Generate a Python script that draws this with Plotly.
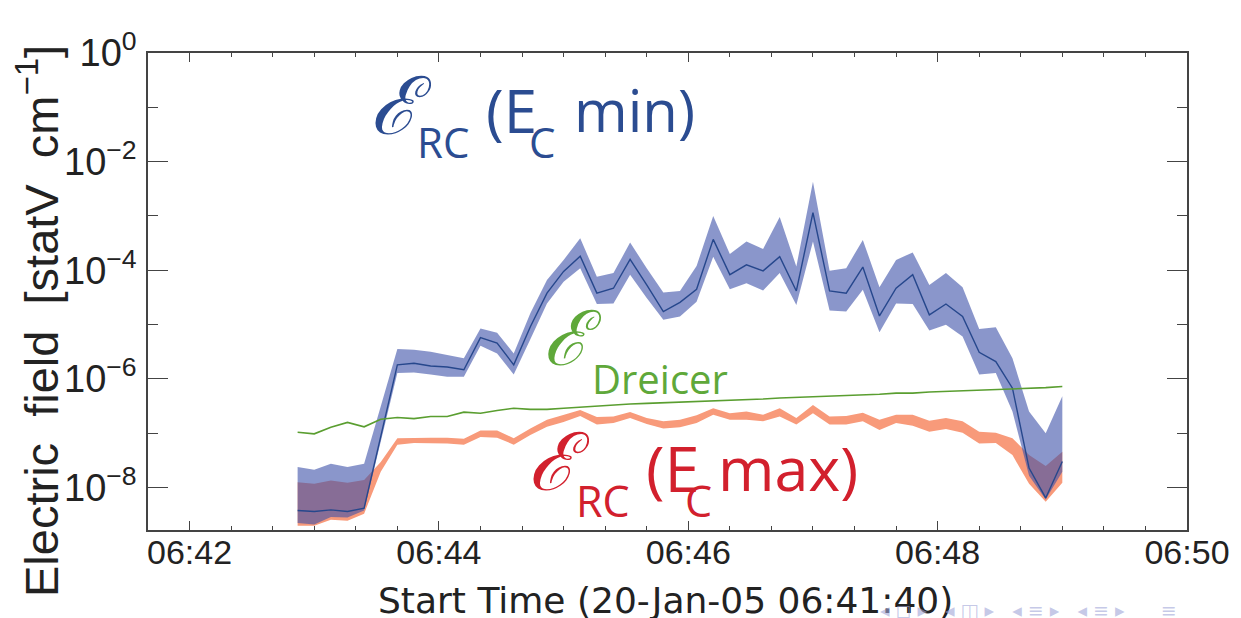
import numpy as np
import plotly.graph_objects as go

# ---------------- data ----------------
times = ["06:42:52", "06:43:00", "06:43:08", "06:43:16", "06:43:24", "06:43:32", "06:43:40",
         "06:43:48", "06:43:56", "06:44:04", "06:44:12", "06:44:20", "06:44:28", "06:44:36",
         "06:44:44", "06:44:52", "06:45:00", "06:45:08", "06:45:16", "06:45:24", "06:45:32",
         "06:45:40", "06:45:48", "06:45:56", "06:46:04", "06:46:12", "06:46:20", "06:46:28",
         "06:46:36", "06:46:44", "06:46:52", "06:47:00", "06:47:08", "06:47:16", "06:47:24",
         "06:47:32", "06:47:40", "06:47:48", "06:47:56", "06:48:04", "06:48:12", "06:48:20",
         "06:48:28", "06:48:36", "06:48:44", "06:48:52", "06:49:00"]
date = "2005-01-20"

# log10 of E_RC (E_C min): central value, upper and lower bound
log_min_mid = [-8.42, -8.44, -8.41, -8.44, -8.38, -7.06, -5.74, -5.71, -5.76, -5.78, -5.83, -5.24,
               -5.34, -5.74, -5.04, -4.42, -4.02, -3.74, -4.42, -4.33, -3.80, -4.27, -4.76, -4.59,
               -4.35, -3.43, -4.08, -3.90, -4.01, -3.75, -4.38, -2.94, -4.38, -4.42, -3.94, -4.84,
               -4.33, -4.08, -4.82, -4.62, -4.85, -5.51, -5.68, -6.17, -7.64, -8.19, -7.52]
log_min_hi = [-7.62, -7.67, -7.56, -7.62, -7.56, -6.49, -5.45, -5.46, -5.50, -5.56, -5.62, -5.07,
              -5.15, -5.53, -4.79, -4.18, -3.81, -3.41, -4.12, -4.05, -3.49, -3.96, -4.41, -4.38,
              -3.92, -3.00, -3.70, -3.47, -3.61, -3.02, -3.93, -2.37, -4.01, -3.96, -3.44, -4.31,
              -3.81, -3.67, -4.27, -4.05, -4.31, -5.08, -5.05, -5.62, -6.60, -7.00, -6.32]
log_min_lo = [-8.65, -8.68, -8.54, -8.55, -8.42, -7.16, -5.89, -5.88, -5.92, -5.96, -5.96, -5.39,
              -5.53, -5.92, -5.27, -4.61, -4.21, -3.96, -4.62, -4.61, -4.08, -4.51, -4.91, -4.85,
              -4.58, -3.75, -4.35, -4.24, -4.37, -4.05, -4.64, -3.47, -4.74, -4.76, -4.36, -5.14,
              -4.61, -4.62, -5.11, -5.00, -5.22, -5.92, -5.89, -6.60, -7.78, -8.22, -7.71]

# log10 of E_RC (E_C max): upper and lower bound
log_max_hi = [-7.90, -7.93, -7.87, -7.91, -7.86, -7.53, -7.09, -7.08, -7.08, -7.08, -7.10, -6.95,
              -6.95, -7.09, -6.91, -6.75, -6.66, -6.57, -6.70, -6.69, -6.61, -6.72, -6.78, -6.75,
              -6.67, -6.54, -6.63, -6.60, -6.66, -6.54, -6.72, -6.48, -6.69, -6.68, -6.62, -6.75,
              -6.66, -6.66, -6.77, -6.72, -6.78, -6.97, -6.99, -7.09, -7.40, -7.60, -7.34]
log_max_lo = [-8.70, -8.70, -8.59, -8.61, -8.48, -7.71, -7.21, -7.18, -7.18, -7.19, -7.21, -7.07,
              -7.08, -7.21, -7.03, -6.88, -6.79, -6.68, -6.84, -6.81, -6.72, -6.83, -6.91, -6.89,
              -6.81, -6.66, -6.75, -6.75, -6.78, -6.69, -6.84, -6.63, -6.84, -6.84, -6.78, -6.94,
              -6.81, -6.86, -6.97, -6.92, -6.99, -7.19, -7.18, -7.40, -7.93, -8.26, -7.91]

# log10 of Dreicer field
log_dreicer = [-6.98, -7.01, -6.89, -6.80, -6.88, -6.74, -6.71, -6.73, -6.69, -6.69, -6.61, -6.63,
               -6.58, -6.54, -6.56, -6.56, -6.54, -6.52, -6.49, -6.48, -6.46, -6.45, -6.44, -6.43,
               -6.42, -6.40, -6.39, -6.38, -6.37, -6.35, -6.34, -6.33, -6.32, -6.31, -6.29, -6.28,
               -6.26, -6.26, -6.24, -6.23, -6.22, -6.21, -6.20, -6.18, -6.17, -6.16, -6.14]

y_tick_exp = [0, -2, -4, -6, -8]
y_minor_exp = [-1, -3, -5, -7]
x_range = ["06:41:40", "06:50:00"]

# ---------------- figure ----------------
x = [f"{date} {t}" for t in times]
xs = x + x[::-1]
tv = lambda a: list(10.0 ** np.array(a))

BLUE_BAND = "rgba(60,80,168,0.6)"
ORANGE_BAND = "#f89a7a"
BLUE_LINE = "#26478c"
GREEN = "#5a9e30"

fig = go.Figure()
fig.add_trace(go.Scatter(x=xs, y=tv(log_max_hi) + tv(log_max_lo)[::-1], fill="toself",
                         fillcolor=ORANGE_BAND, line=dict(width=0), mode="lines", hoverinfo="skip"))
fig.add_trace(go.Scatter(x=xs, y=tv(log_min_hi) + tv(log_min_lo)[::-1], fill="toself",
                         fillcolor=BLUE_BAND, line=dict(width=0), mode="lines", hoverinfo="skip"))
fig.add_trace(go.Scatter(x=x, y=tv(log_min_mid), mode="lines",
                         line=dict(color=BLUE_LINE, width=1.4)))
fig.add_trace(go.Scatter(x=x, y=tv(log_dreicer), mode="lines",
                         line=dict(color=GREEN, width=1.6)))

L, R, T, B = 148, 54, 53, 88
W, H = 1241, 618
PW, PH = W - L - R, H - T - B


def px(v):
    return (v - L) / PW


def py(v):
    return (H - B - v) / PH


axis_col = "#444444"
xtick_font = dict(family="Liberation Sans", size=34, color="#222222")
ytick_font = dict(family="Liberation Sans", size=38, color="#222222")

fig.update_layout(
    width=W, height=H, margin=dict(l=L, r=R, t=T, b=B),
    paper_bgcolor="white", plot_bgcolor="white", showlegend=False,
    xaxis=dict(type="date", range=[f"{date} {x_range[0]}", f"{date} {x_range[1]}"],
               tick0=f"{date} 06:42:00", dtick=120000, tickformat="%H:%M",
               ticks="inside", ticklen=9, tickwidth=1.2, tickcolor=axis_col,
               minor=dict(dtick=20000, tick0=f"{date} 06:42:00", ticks="inside", ticklen=4,
                          tickwidth=1, tickcolor=axis_col),
               showline=True, linecolor=axis_col, linewidth=1.5, mirror="allticks",
               showgrid=False, zeroline=False, tickfont=xtick_font, ticklabelstandoff=-9),
    yaxis=dict(type="log", range=[-8.78, 0],
               tickvals=[10.0 ** e for e in y_tick_exp],
               ticktext=[f"10<sup>{'−' + str(-e) if e < 0 else e}</sup>" for e in y_tick_exp],
               ticks="inside", ticklen=20, tickwidth=1.2, tickcolor=axis_col,
               minor=dict(tickvals=[10.0 ** e for e in y_minor_exp], ticks="inside", ticklen=10,
                          tickwidth=1, tickcolor=axis_col, showgrid=False),
               showline=True, linecolor=axis_col, linewidth=1.5, mirror="allticks",
               showgrid=False, zeroline=False, tickfont=ytick_font, ticklabelstandoff=2),
)

ann = []


def text(s, xp, yp, size, color, family="Open Sans", xanchor="left", yanchor="middle", angle=0):
    ann.append(dict(text=s, x=px(xp), y=py(yp), xref="paper", yref="paper", showarrow=False,
                    xanchor=xanchor, yanchor=yanchor, textangle=angle,
                    font=dict(family=family, size=size, color=color)))


SCRIPT = "DejaVu Serif"
BL, RD, GR = "#2b4c91", "#d2202d", "#5fa83a"
# E_RC (E_C min)
text("<i>ℰ</i>", 368, 106, 80, BL, family=SCRIPT)
text("RC", 415, 141, 42, BL)
text("(E", 484, 110, 60, BL)
text("C", 527, 141, 42, BL)
text("min)", 572, 110, 58, BL)
# E_Dreicer
text("<i>ℰ</i>", 541, 338, 76, GR, family=SCRIPT)
text("Dreicer", 590, 378, 40, GR)
# E_RC (E_C max)
text("<i>ℰ</i>", 526, 462, 80, RD, family=SCRIPT)
text("RC", 574, 500, 43, RD)
text("(E", 644, 467, 63, RD)
text("C", 683, 500, 43, RD)
text("max)", 716, 467, 61, RD)

# axis titles
text("Electric  field  [statV  cm<sup>−1</sup>]", 38, 321, 47, "#222222",
     family="Liberation Sans", xanchor="center", angle=-90)
text("Start Time (20-Jan-05 06:41:40)", 665, 600, 36, "#222222",
     family="DejaVu Sans", xanchor="center")
# beamer navigation symbols (faint, bottom right)
text("◂ ◻ ▸   ◂ ◫ ▸   ◂ ≡ ▸   ◂ ≡ ▸      ≡", 1028, 610, 19, "rgba(160,165,215,0.6)",
     family="DejaVu Sans", xanchor="center")

fig.update_layout(annotations=ann)
fig.write_html("out.html")
